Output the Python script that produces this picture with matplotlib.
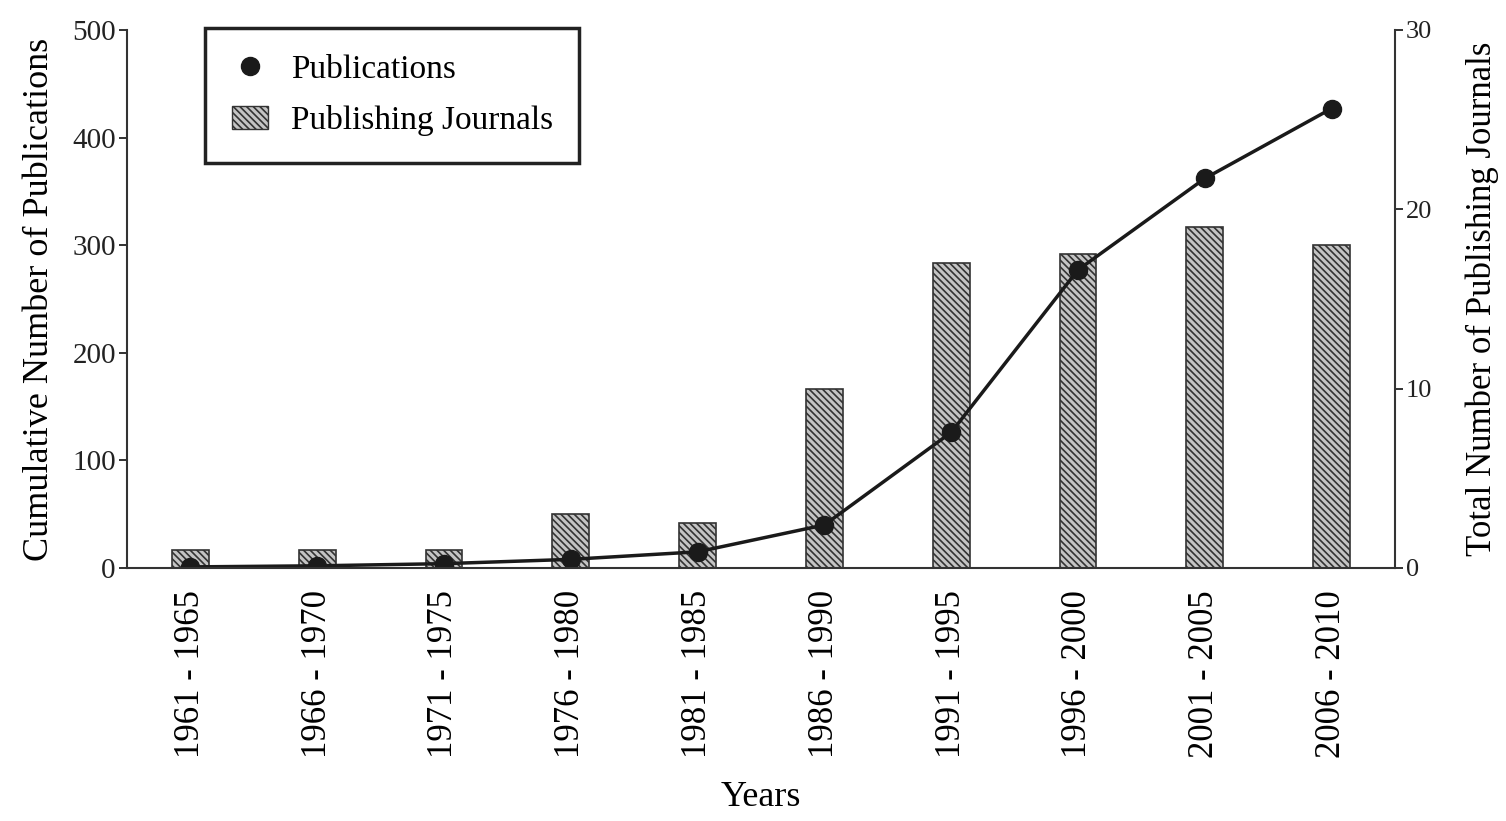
import numpy as np
import matplotlib
matplotlib.use("Agg")
from matplotlib import pyplot as plt
from matplotlib.lines import Line2D
from matplotlib.patches import Patch

plt.rcParams['font.family'] = ['Liberation Serif', 'DejaVu Serif']
plt.rcParams['hatch.linewidth'] = 1.2
plt.rcParams['hatch.color'] = '#333333'

periods = ["1961 - 1965", "1966 - 1970", "1971 - 1975", "1976 - 1980", "1981 - 1985",
           "1986 - 1990", "1991 - 1995", "1996 - 2000", "2001 - 2005", "2006 - 2010"]
publications = [1, 2, 4, 8, 15, 40, 126, 277, 362, 427]
journals = [1, 1, 1, 3, 2.5, 10, 17, 17.5, 19, 18]

x = np.arange(len(periods))

fig = plt.figure(figsize=(15.06, 8.21), dpi=100)
ax = fig.add_axes([0.0843, 0.3082, 0.842, 0.6553])
ax2 = ax.twinx()

# bars on the right axis, line on the left axis drawn above them
ax2.bar(x, journals, width=0.29, facecolor='#c4c4c4', edgecolor='#333333',
        linewidth=1.2, hatch='\\\\\\\\\\')
ax.plot(x, publications, color='#1a1a1a', lw=2.5, marker='o', markersize=13)
ax.set_zorder(ax2.get_zorder() + 1)
ax.patch.set_visible(False)

ax.set_xlim(-0.5, 9.5)
ax.set_ylim(0, 500)
ax2.set_ylim(0, 30)
ax.set_yticks([0, 100, 200, 300, 400, 500])
ax2.set_yticks([0, 10, 20, 30])

ax.set_xticks(x)
ax.set_xticklabels(periods, rotation=90, fontsize=25)
ax.tick_params(axis='x', length=0, pad=16)
ax.tick_params(axis='y', labelsize=21, length=6, width=1.3, colors='#222222', pad=2)
ax2.tick_params(axis='y', labelsize=19, length=6, width=1.3, colors='#222222', pad=2)

for a in (ax, ax2):
    a.spines['top'].set_visible(False)
    for s in a.spines.values():
        s.set_linewidth(1.5)
        s.set_color('#333333')
ax.spines['right'].set_visible(False)
ax2.spines['left'].set_visible(False)
ax2.spines['bottom'].set_visible(False)

ax.set_ylabel("Cumulative Number of Publications", fontsize=26, labelpad=12)
ax2.set_ylabel("Total Number of Publishing Journals", fontsize=25, labelpad=24)
ax.set_xlabel("Years", fontsize=26, labelpad=16)

handles = [Line2D([], [], color='#1a1a1a', marker='o', linestyle='none', markersize=13),
           Patch(facecolor='#c4c4c4', edgecolor='#333333', hatch='\\\\\\\\\\')]
leg = ax.legend(handles, ["Publications", "Publishing Journals"], loc='upper left',
                bbox_to_anchor=(0.0615, 1.004), borderaxespad=0, fontsize=24,
                fancybox=False, framealpha=1, edgecolor='#222222', borderpad=0.8,
                handletextpad=0.67, handlelength=1.1, labelspacing=0.6)
leg.get_frame().set_linewidth(2.5)

fig.savefig("out.png", dpi=100)
